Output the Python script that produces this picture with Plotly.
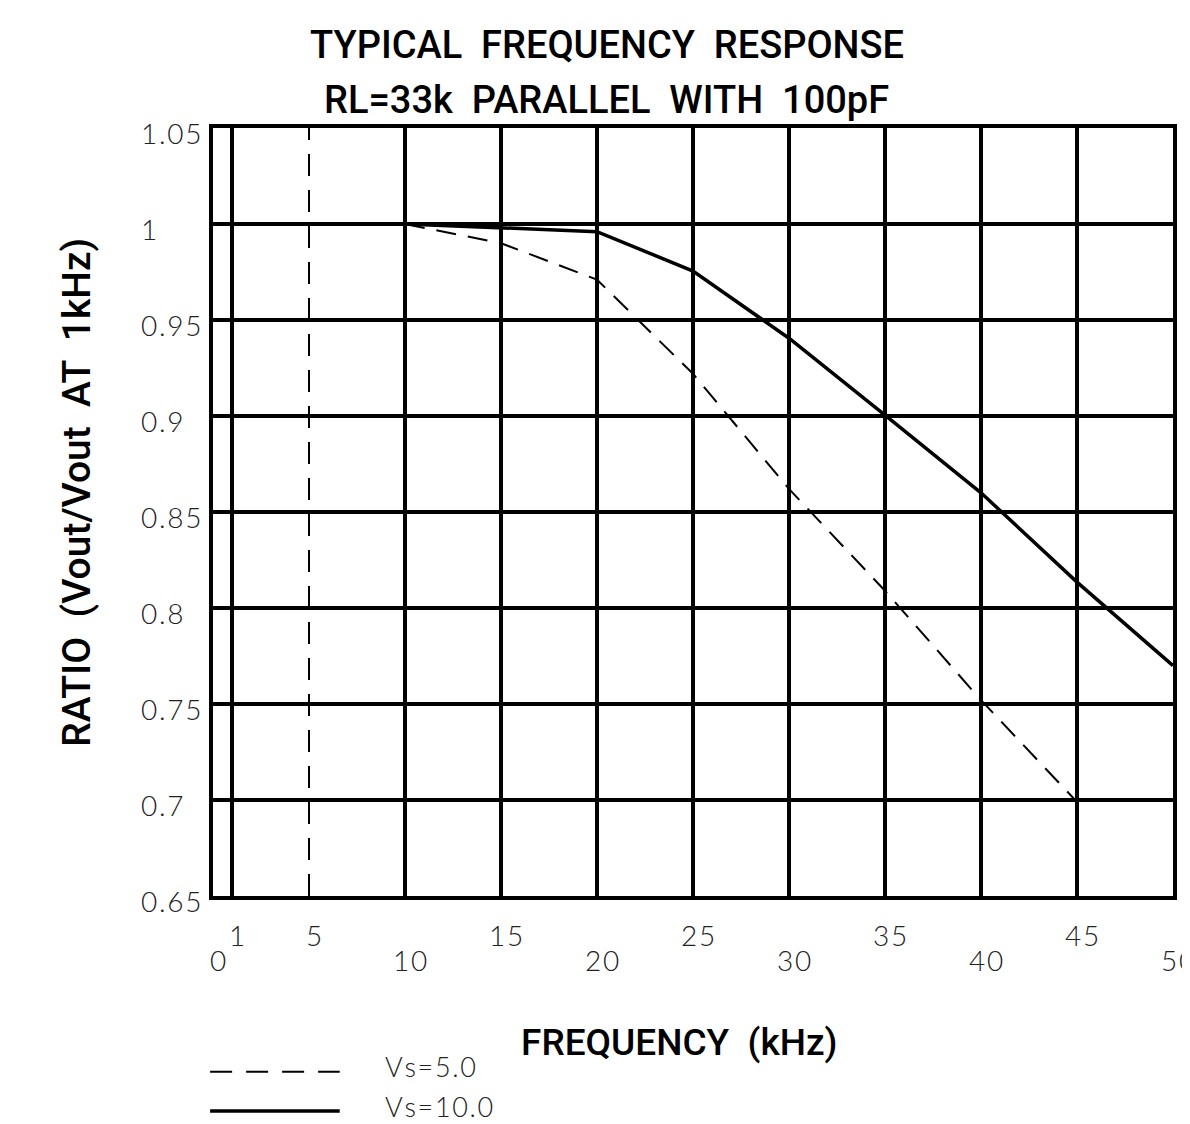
import plotly.graph_objects as go

# ---- data ----
freq_khz = [10, 15, 20, 25, 30, 35, 40, 45, 50]
ratio_vs5 = [1.000, 0.990, 0.971, 0.922, 0.862, 0.809, 0.752, 0.699]
ratio_vs10 = [1.000, 0.998, 0.996, 0.9755, 0.9405, 0.9005, 0.860, 0.8135, 0.770]

series_names = ["Vs=5.0", "Vs=10.0"]

x_grid_vals = [1, 10, 15, 20, 25, 30, 35, 40, 45]
x_dashed_grid = [5]
x_tick_upper = [1, 5, 15, 25, 35, 45]
x_tick_lower = [0, 10, 20, 30, 40, 50]
y_tick_vals = [0.65, 0.70, 0.75, 0.80, 0.85, 0.90, 0.95, 1.00, 1.05]
y_tick_text = ["0.65", "0.7", "0.75", "0.8", "0.85", "0.9", "0.95", "1", "1.05"]

title_lines = ["TYPICAL  FREQUENCY  RESPONSE", "RL=33k  PARALLEL  WITH  100pF"]
x_title = "FREQUENCY  (kHz)"
y_title = "RATIO  (Vout/Vout  AT  1kHz)"

TICK_FONT = dict(family="Lato, Roboto, sans-serif", size=28, color="#222", weight=300)
HEAD_FAMILY = "Roboto, Liberation Sans, sans-serif"


def spaced(s):
    return "\u200a".join(list(s))


fig = go.Figure()

fig.add_trace(go.Scatter(
    x=freq_khz[:len(ratio_vs5)], y=ratio_vs5, mode="lines", name=series_names[0],
    line=dict(color="black", width=2, dash="20px,12px"), showlegend=False))
fig.add_trace(go.Scatter(
    x=freq_khz, y=ratio_vs10, mode="lines", name=series_names[1],
    line=dict(color="black", width=3.5), showlegend=False))

# dashed vertical grid line
for xv in x_dashed_grid:
    fig.add_shape(type="line", xref="x", yref="paper", x0=xv, x1=xv, y0=0, y1=1,
                  line=dict(color="black", width=2, dash="22px,14px"), layer="below")

annotations = []
for xv in x_tick_upper:
    annotations.append(dict(x=xv, y=0, xref="x", yref="paper", yanchor="middle", yshift=-39, xshift=5,
                            text=spaced(str(xv)), showarrow=False, font=TICK_FONT))
for xv in x_tick_lower:
    annotations.append(dict(x=xv, y=0, xref="x", yref="paper", yanchor="middle", yshift=-64, xshift=5,
                            text=spaced(str(xv)), showarrow=False, font=TICK_FONT))
for yv, yt in zip(y_tick_vals, y_tick_text):
    annotations.append(dict(x=-0.077, y=yv, xref="paper", yref="y", xanchor="left", yanchor="middle",
                            yshift=-5, text=spaced(yt), showarrow=False, font=TICK_FONT))

annotations.append(dict(x=0.41, y=1, xref="paper", yref="paper", yanchor="middle", yshift=83,
                        text=title_lines[0], showarrow=False,
                        font=dict(family=HEAD_FAMILY, size=38, color="black", weight=500)))
annotations.append(dict(x=0.41, y=1, xref="paper", yref="paper", yanchor="middle", yshift=28,
                        text=title_lines[1], showarrow=False,
                        font=dict(family=HEAD_FAMILY, size=38, color="black", weight=500)))
annotations.append(dict(x=0.485, y=0, xref="paper", yref="paper", yanchor="middle", yshift=-146,
                        text=x_title, showarrow=False,
                        font=dict(family=HEAD_FAMILY, size=37, color="black", weight=500)))
annotations.append(dict(x=-0.142, y=0.5, xref="paper", yref="paper", xanchor="center", yanchor="middle",
                        textangle=-90, yshift=20, text=y_title, showarrow=False,
                        font=dict(family=HEAD_FAMILY, size=39, color="black", weight=500)))

# legend (custom)
legend_y = [-0.229, -0.280]
legend_dash = ["22px,14px", None]
legend_width = [2, 3.5]
for name, ly, dsh, w in zip(series_names, legend_y, legend_dash, legend_width):
    line = dict(color="black", width=w)
    if dsh:
        line["dash"] = dsh
    fig.add_shape(type="line", xref="paper", yref="paper", x0=-0.003, x1=0.132, y0=ly, y1=ly, line=line)
    annotations.append(dict(x=0.177, y=ly, xref="paper", yref="paper", xanchor="left", yanchor="middle",
                            yshift=5, text=spaced(name), showarrow=False,
                            font=dict(TICK_FONT, size=27)))

fig.update_layout(
    width=1190, height=1124,
    margin=dict(l=205, r=25, t=120, b=236),
    paper_bgcolor="white", plot_bgcolor="white",
    annotations=annotations,
    xaxis=dict(range=[0, 50], tickvals=x_grid_vals, showticklabels=False, ticks="",
               showgrid=True, gridcolor="black", gridwidth=4, zeroline=False,
               showline=True, linecolor="black", linewidth=4, mirror=True),
    yaxis=dict(range=[0.65, 1.05], tickvals=y_tick_vals, showticklabels=False, ticks="",
               showgrid=True, gridcolor="black", gridwidth=4, zeroline=False,
               showline=True, linecolor="black", linewidth=4, mirror=True),
)

fig.write_html("out.html")
